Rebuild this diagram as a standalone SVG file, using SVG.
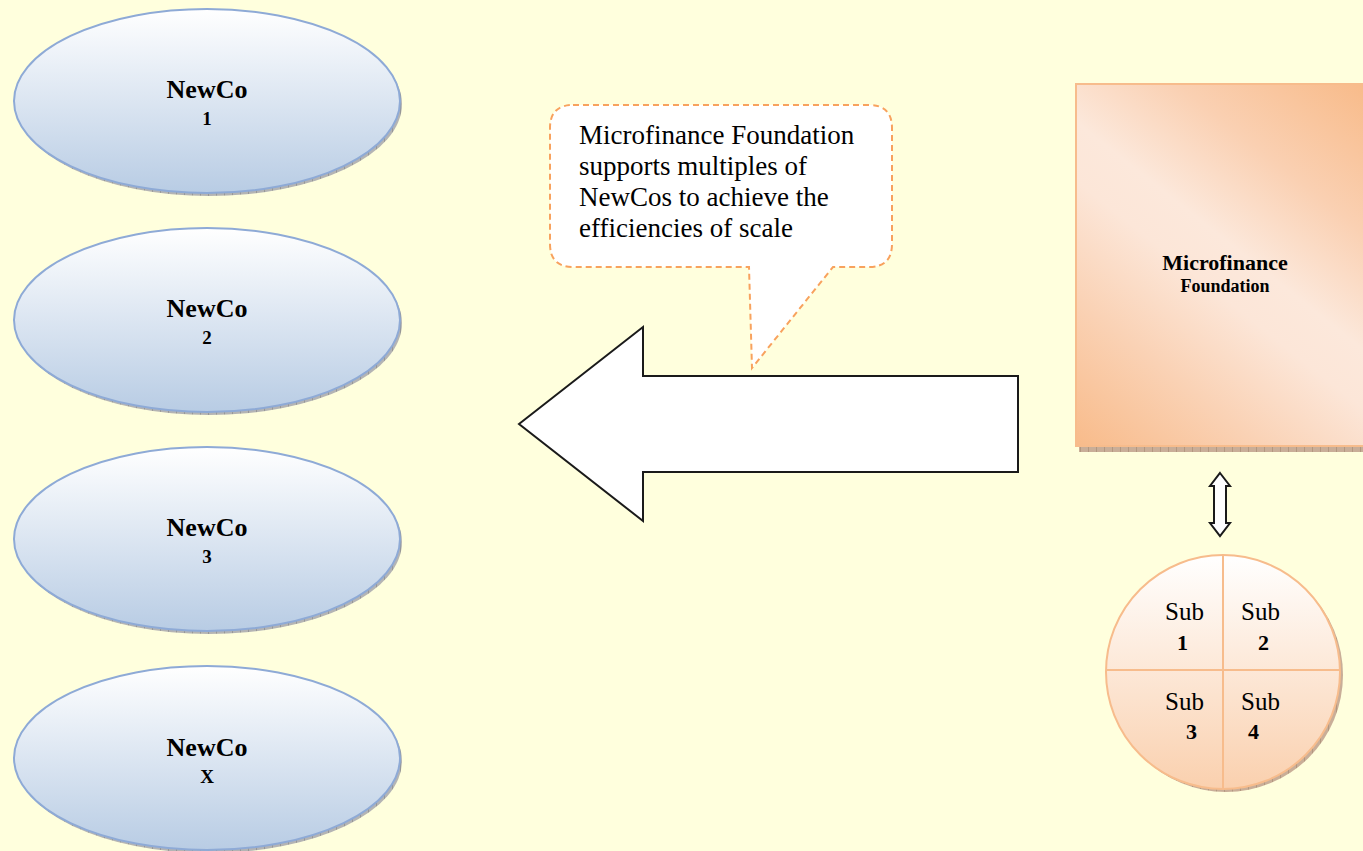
<svg xmlns="http://www.w3.org/2000/svg" width="1363" height="851" viewBox="0 0 1363 851">
  <defs>
    <linearGradient id="blueFill" x1="0" y1="0" x2="0" y2="1">
      <stop offset="0" stop-color="#FFFFFF"/>
      <stop offset="1" stop-color="#B8CCE4"/>
    </linearGradient>
    <linearGradient id="peachRect" gradientUnits="userSpaceOnUse" x1="1076" y1="446" x2="1363" y2="84">
      <stop offset="0" stop-color="#F8BB8A"/>
      <stop offset="0.25" stop-color="#FAD2B5"/>
      <stop offset="0.45" stop-color="#FCE6D8"/>
      <stop offset="0.55" stop-color="#FCE8DB"/>
      <stop offset="0.75" stop-color="#FAD0B2"/>
      <stop offset="1" stop-color="#F8BB8A"/>
    </linearGradient>
    <linearGradient id="peachCircle" x1="0" y1="0" x2="0" y2="1">
      <stop offset="0" stop-color="#FFFFFF"/>
      <stop offset="1" stop-color="#FAD0AE"/>
    </linearGradient>
    <pattern id="hatch" width="8" height="8" patternUnits="userSpaceOnUse">
      <rect width="8" height="8" fill="#B4B4B4"/>
      <path d="M0 0 V8" stroke="#7A7A7A" stroke-width="1"/>
    </pattern>
    <pattern id="hatchWarm" width="8" height="8" patternUnits="userSpaceOnUse">
      <rect width="8" height="8" fill="#C9AE98"/>
      <path d="M0 0 V8" stroke="#9C8068" stroke-width="1"/>
    </pattern>
  </defs>
  <style>
    .newco-shadow { fill: url(#hatch); }
    .newco { fill: url(#blueFill); stroke: #8EAAD6; stroke-width: 2; }
    .lbl { font-family: "Liberation Serif", "Times New Roman", serif; fill: #000; text-anchor: middle; }
    .big { font-size: 26px; font-weight: bold; }
    .num { font-size: 19px; font-weight: bold; }
    .note { font-family: "Liberation Serif", "Times New Roman", serif; font-size: 27px; fill: #000; }
    .sub { font-family: "Liberation Serif", "Times New Roman", serif; font-size: 25px; fill: #000; }
    .subnum { font-family: "Liberation Serif", "Times New Roman", serif; font-size: 22px; font-weight: bold; fill: #000; }
    .outline { fill: #FFFFFF; stroke: #1A1A1A; stroke-width: 2; stroke-linejoin: miter; }
  </style>

  <rect width="1363" height="851" fill="#FFFFDD"/>

  <!-- NewCo ellipses -->
  <g id="newco-1">
    <ellipse class="newco-shadow" cx="209" cy="104" rx="193" ry="92"/>
    <ellipse class="newco" cx="207" cy="101" rx="193" ry="92"/>
    <text class="lbl big" x="207" y="98">NewCo</text>
    <text class="lbl num" x="207" y="125">1</text>
  </g>
  <g id="newco-2">
    <ellipse class="newco-shadow" cx="209" cy="323" rx="193" ry="92"/>
    <ellipse class="newco" cx="207" cy="320" rx="193" ry="92"/>
    <text class="lbl big" x="207" y="317">NewCo</text>
    <text class="lbl num" x="207" y="344">2</text>
  </g>
  <g id="newco-3">
    <ellipse class="newco-shadow" cx="209" cy="542" rx="193" ry="92"/>
    <ellipse class="newco" cx="207" cy="539" rx="193" ry="92"/>
    <text class="lbl big" x="207" y="536">NewCo</text>
    <text class="lbl num" x="207" y="563">3</text>
  </g>
  <g id="newco-x">
    <ellipse class="newco-shadow" cx="209" cy="761" rx="193" ry="92"/>
    <ellipse class="newco" cx="207" cy="758" rx="193" ry="92"/>
    <text class="lbl big" x="207" y="756">NewCo</text>
    <text class="lbl num" x="207" y="783">X</text>
  </g>

  <!-- Microfinance Foundation block -->
  <g id="foundation">
    <rect x="1079" y="446" width="290" height="6" fill="url(#hatchWarm)"/>
    <rect x="1076" y="84" width="292" height="362" fill="url(#peachRect)" stroke="#F7BC8C" stroke-width="2"/>
    <text class="lbl" x="1225" y="270" font-size="22" font-weight="bold">Microfinance</text>
    <text class="lbl" x="1225" y="292" font-size="18" font-weight="bold">Foundation</text>
  </g>

  <!-- Subsidiaries circle -->
  <g id="subsidiaries">
    <circle cx="1226" cy="675" r="117" fill="url(#hatchWarm)"/>
    <circle cx="1223" cy="672" r="117" fill="url(#peachCircle)" stroke="#F7BC8C" stroke-width="2"/>
    <path d="M1223 555 V789 M1106 670 H1340" stroke="#F7BC8C" stroke-width="2"/>
    <text class="sub" x="1165" y="620">Sub</text>
    <text class="subnum" x="1177" y="650">1</text>
    <text class="sub" x="1241" y="620">Sub</text>
    <text class="subnum" x="1258" y="650">2</text>
    <text class="sub" x="1165" y="710">Sub</text>
    <text class="subnum" x="1186" y="739">3</text>
    <text class="sub" x="1241" y="710">Sub</text>
    <text class="subnum" x="1248" y="739">4</text>
  </g>

  <!-- Callout note -->
  <g id="callout">
    <path d="M573 105 H869 Q892 105 892 128 V244 Q892 267 869 267 H833 L752 368 L749 267 H573 Q550 267 550 244 V128 Q550 105 573 105 Z"
          fill="#FFFFFF" stroke="#F8A25E" stroke-width="2" stroke-dasharray="6 4"/>
    <text class="note" x="579" y="144">Microfinance Foundation</text>
    <text class="note" x="579" y="175">supports multiples of</text>
    <text class="note" x="579" y="206">NewCos to achieve the</text>
    <text class="note" x="579" y="237">efficiencies of scale</text>
  </g>

  <!-- Connectors -->
  <g id="connectors">
    <polygon class="outline" points="519,424 643,327 643,376 1018,376 1018,472 643,472 643,521"/>
    <polygon class="outline" stroke-width="1.5" points="1220,473 1230,486 1226,486 1226,523 1230,523 1220,536 1210,523 1214,523 1214,486 1210,486"/>
  </g>
</svg>
